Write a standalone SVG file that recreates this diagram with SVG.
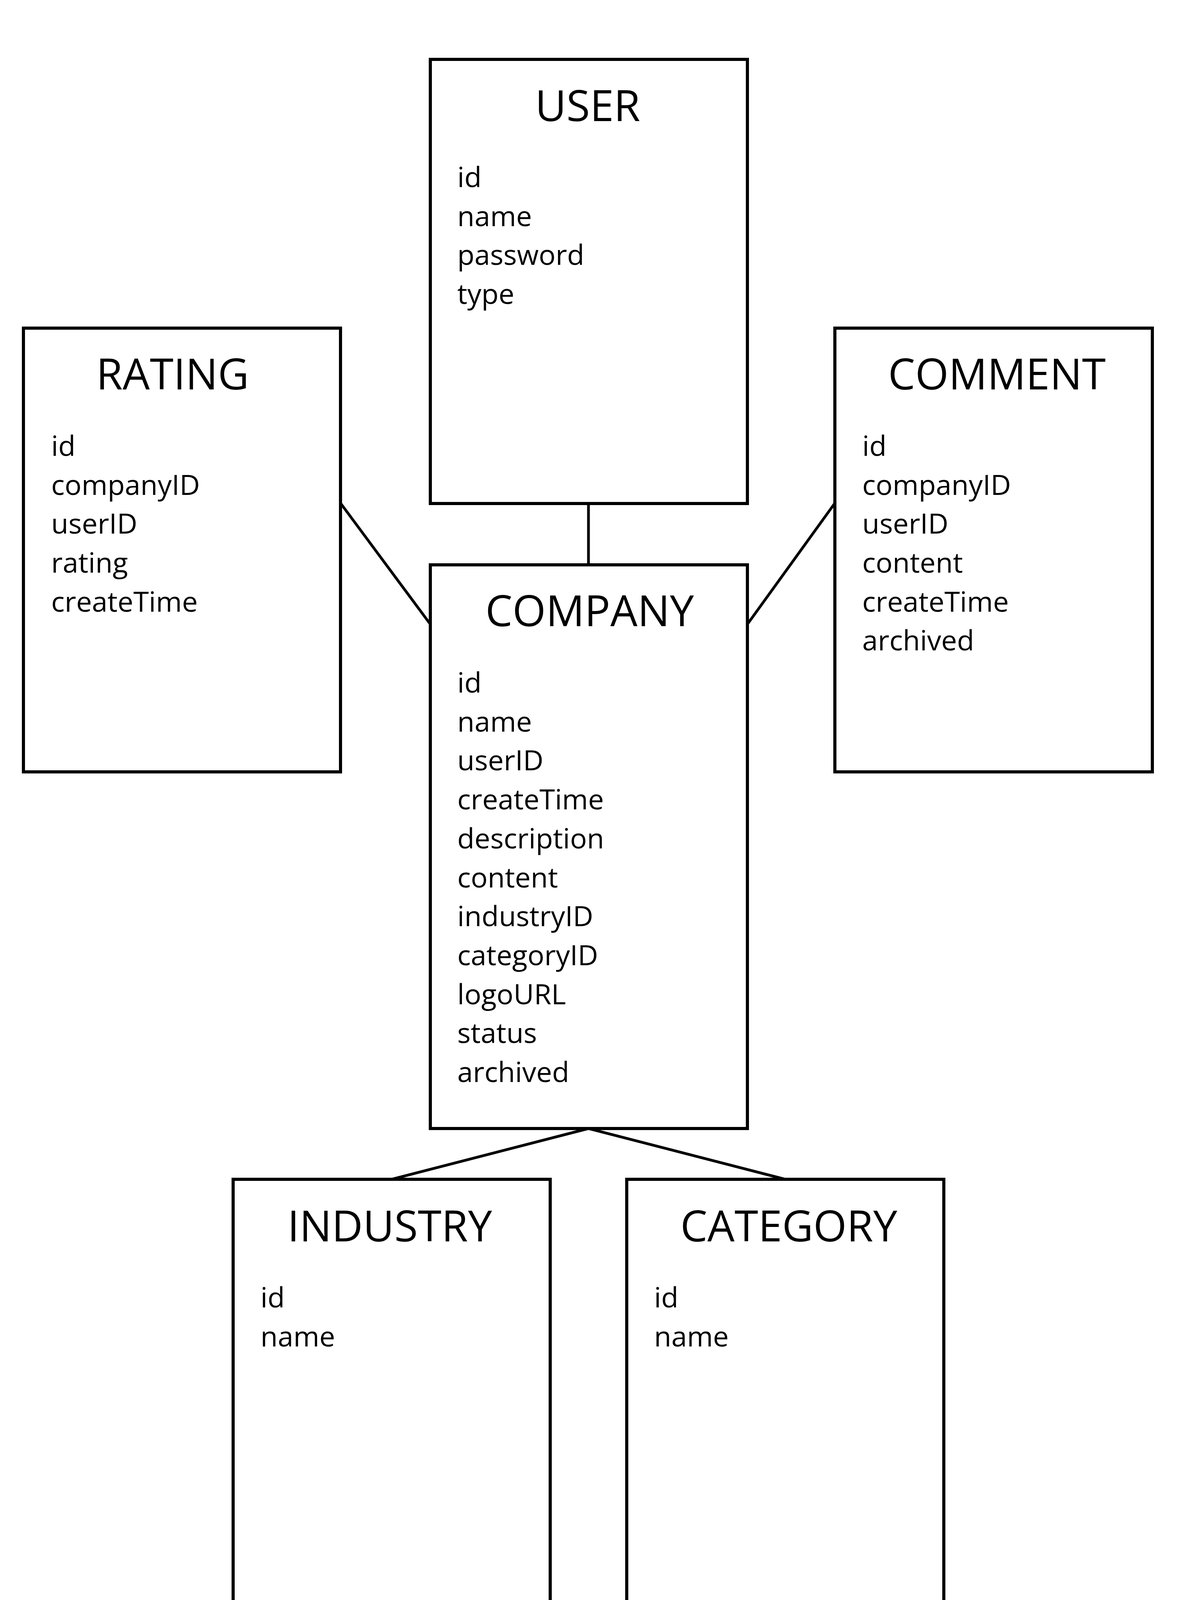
<svg xmlns="http://www.w3.org/2000/svg" width="3050" height="4288" viewBox="0 0 3050 4288">
<style>
.box{fill:#fff;stroke:#000;stroke-width:8}
.conn{fill:none;stroke:#000;stroke-width:7}
.title{font-family:"Open Sans","Noto Sans",sans-serif;font-size:110px;fill:#000;text-anchor:middle}
.field{font-family:"Open Sans","Noto Sans",sans-serif;font-size:72px;fill:#000}
</style>
<rect width="3050" height="4288" fill="#fff"/>
<g id="connectors">
<line class="conn" x1="1507" y1="1289" x2="1507" y2="1446"/>
<line class="conn" x1="872" y1="1288" x2="1102" y2="1598"/>
<line class="conn" x1="2138" y1="1288" x2="1914" y2="1598"/>
<line class="conn" x1="1507" y1="2889" x2="1003" y2="3019"/>
<line class="conn" x1="1507" y1="2889" x2="2011" y2="3019"/>
</g>
<g id="user">
<rect class="box" x="1102" y="152" width="812" height="1137"/>
<text class="title" x="1505" y="310">USER</text>
<text class="field" x="1171" y="479">id</text>
<text class="field" x="1171" y="579">name</text>
<text class="field" x="1171" y="678">password</text>
<text class="field" x="1171" y="778">type</text>
</g>
<g id="rating">
<rect class="box" x="60" y="840" width="812" height="1136"/>
<text class="title" x="442" y="997">RATING</text>
<text class="field" x="131" y="1167">id</text>
<text class="field" x="131" y="1267">companyID</text>
<text class="field" x="131" y="1366">userID</text>
<text class="field" x="131" y="1466">rating</text>
<text class="field" x="131" y="1566">createTime</text>
</g>
<g id="comment">
<rect class="box" x="2138" y="840" width="813" height="1136"/>
<text class="title" x="2553" y="997">COMMENT</text>
<text class="field" x="2208" y="1167">id</text>
<text class="field" x="2208" y="1267">companyID</text>
<text class="field" x="2208" y="1366">userID</text>
<text class="field" x="2208" y="1466">content</text>
<text class="field" x="2208" y="1566">createTime</text>
<text class="field" x="2208" y="1665">archived</text>
</g>
<g id="company">
<rect class="box" x="1102" y="1446" width="812" height="1443"/>
<text class="title" x="1510" y="1603">COMPANY</text>
<text class="field" x="1171" y="1773">id</text>
<text class="field" x="1171" y="1873">name</text>
<text class="field" x="1171" y="1972">userID</text>
<text class="field" x="1171" y="2072">createTime</text>
<text class="field" x="1171" y="2172">description</text>
<text class="field" x="1171" y="2272">content</text>
<text class="field" x="1171" y="2371">industryID</text>
<text class="field" x="1171" y="2471">categoryID</text>
<text class="field" x="1171" y="2571">logoURL</text>
<text class="field" x="1171" y="2670">status</text>
<text class="field" x="1171" y="2770">archived</text>
</g>
<g id="industry">
<rect class="box" x="597" y="3019" width="812" height="1138"/>
<text class="title" x="998" y="3178">INDUSTRY</text>
<text class="field" x="667" y="3347">id</text>
<text class="field" x="667" y="3447">name</text>
</g>
<g id="category">
<rect class="box" x="1605" y="3019" width="812" height="1138"/>
<text class="title" x="2020" y="3178">CATEGORY</text>
<text class="field" x="1675" y="3347">id</text>
<text class="field" x="1675" y="3447">name</text>
</g>
</svg>
